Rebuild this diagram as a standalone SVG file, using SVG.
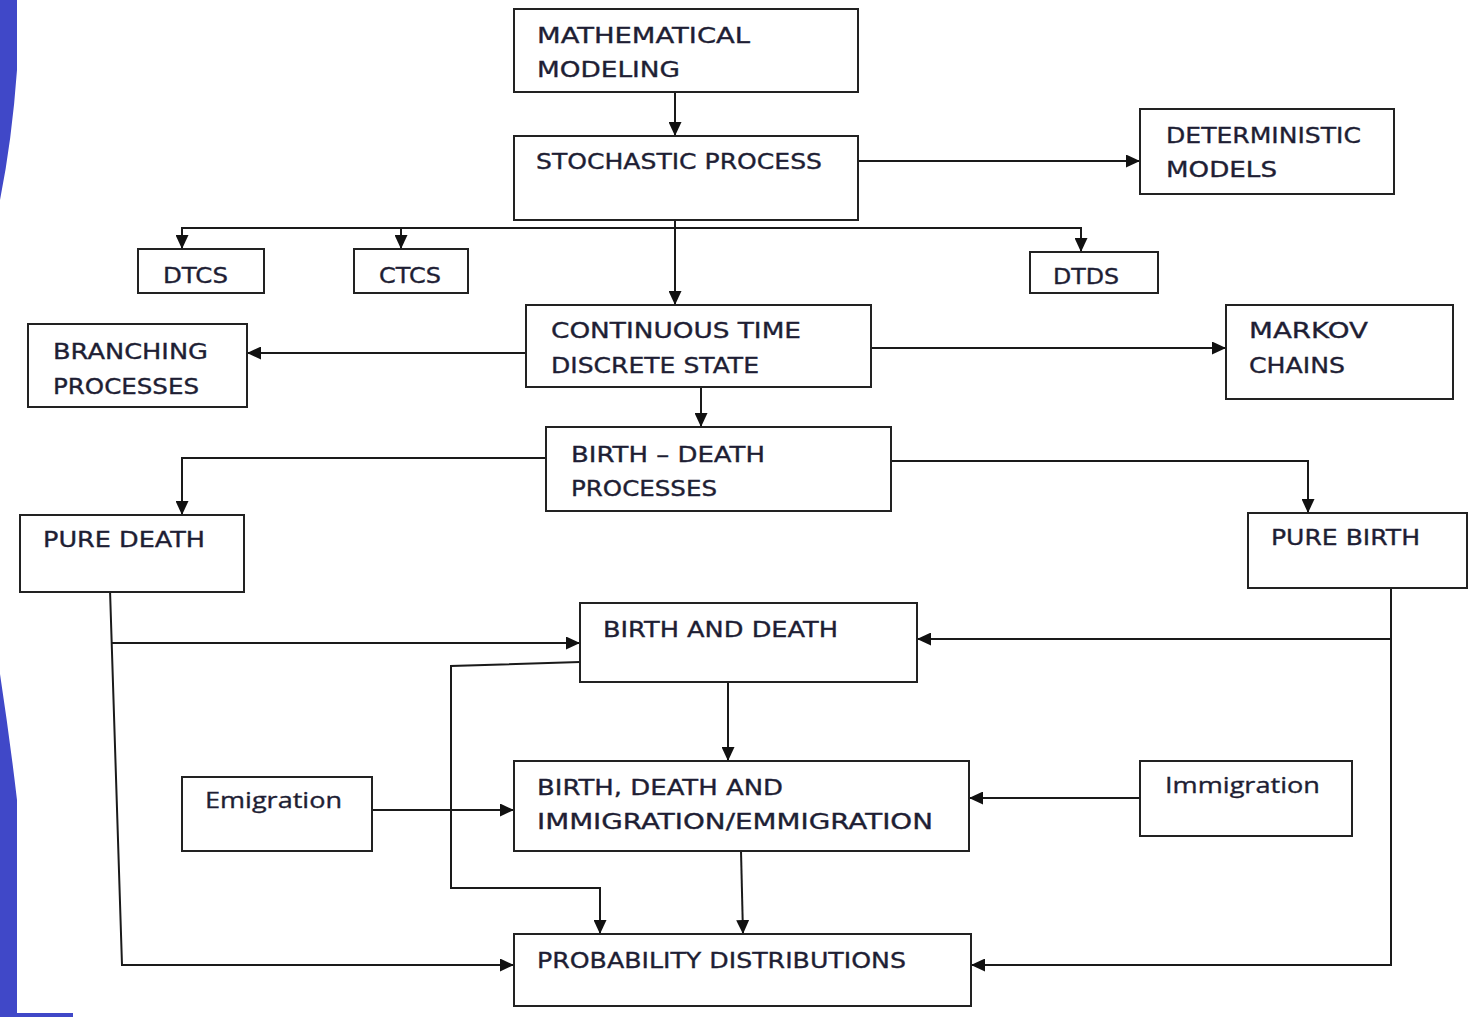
<svg xmlns="http://www.w3.org/2000/svg" width="1472" height="1017" viewBox="0 0 1472 1017">
<defs>
<marker id="ah" markerUnits="userSpaceOnUse" markerWidth="14" markerHeight="13" refX="14" refY="6.5" orient="auto">
<path d="M0,0 L14,6.5 L0,13 z" fill="#111"/>
</marker>
<style>
.box{fill:#fff;stroke:#222;stroke-width:2}
.t{font-family:"DejaVu Sans",Verdana,sans-serif;font-size:22px;fill:#1e1e34;stroke:#1e1e34;stroke-width:0.35}
.tl{font-family:"Open Sans","DejaVu Sans",sans-serif;font-size:22px;fill:#1e1e34;stroke:#1e1e34;stroke-width:0.35}
.c{fill:none;stroke:#1a1a1a;stroke-width:2}
.c path{marker-end:url(#ah)}
</style>
</defs>
<rect width="1472" height="1017" fill="#fff"/>
<path d="M0,0 H17 V70 Q12,140 0,200 V674 Q10,740 17,800 V1013 H73 V1017 H0 Z" fill="#4048c8"/>

<g id="connectors" class="c">
<path d="M675,92 V136"/>
<path d="M858,161 H1140"/>
<path d="M675,220 V305"/>
<path d="M675,228 H182 V249"/>
<path d="M401,228 V249"/>
<path d="M675,228 H1081 V252"/>
<path d="M526,353 H247"/>
<path d="M871,348 H1226"/>
<path d="M701,387 V427"/>
<path d="M546,458 H182 V515"/>
<path d="M891,461 H1308 V513"/>
<path d="M1391,588 V965 H971"/>
<path d="M1391,639 H917"/>
<path d="M110,590 L122,965 H514"/>
<path d="M111,643 H580"/>
<path d="M580,662 L451,666 V888 H600 V934"/>
<path d="M728,682 V761"/>
<path d="M372,810 H514"/>
<path d="M1140,798 H969"/>
<path d="M741,851 L743,934"/>
</g>

<g id="mathematical-modeling">
<rect class="box" x="514" y="9" width="344" height="83"/>
<text class="t" x="537" y="43" textLength="213" lengthAdjust="spacingAndGlyphs">MATHEMATICAL</text>
<text class="t" x="537" y="77" textLength="143" lengthAdjust="spacingAndGlyphs">MODELING</text>
</g>
<g id="stochastic-process">
<rect class="box" x="514" y="136" width="344" height="84"/>
<text class="t" x="536" y="169" textLength="286" lengthAdjust="spacingAndGlyphs">STOCHASTIC PROCESS</text>
</g>
<g id="deterministic-models">
<rect class="box" x="1140" y="109" width="254" height="85"/>
<text class="t" x="1166" y="143" textLength="195" lengthAdjust="spacingAndGlyphs">DETERMINISTIC</text>
<text class="t" x="1166" y="177" textLength="111" lengthAdjust="spacingAndGlyphs">MODELS</text>
</g>
<g id="dtcs">
<rect class="box" x="138" y="249" width="126" height="44"/>
<text class="t" x="163" y="283" textLength="65" lengthAdjust="spacingAndGlyphs">DTCS</text>
</g>
<g id="ctcs">
<rect class="box" x="354" y="249" width="114" height="44"/>
<text class="t" x="379" y="283" textLength="62" lengthAdjust="spacingAndGlyphs">CTCS</text>
</g>
<g id="dtds">
<rect class="box" x="1030" y="252" width="128" height="41"/>
<text class="t" x="1053" y="284" textLength="66" lengthAdjust="spacingAndGlyphs">DTDS</text>
</g>
<g id="branching-processes">
<rect class="box" x="28" y="324" width="219" height="83"/>
<text class="t" x="53" y="359" textLength="155" lengthAdjust="spacingAndGlyphs">BRANCHING</text>
<text class="t" x="53" y="394" textLength="146" lengthAdjust="spacingAndGlyphs">PROCESSES</text>
</g>
<g id="continuous-time-discrete-state">
<rect class="box" x="526" y="305" width="345" height="82"/>
<text class="t" x="551" y="338" textLength="250" lengthAdjust="spacingAndGlyphs">CONTINUOUS TIME</text>
<text class="t" x="551" y="373" textLength="208" lengthAdjust="spacingAndGlyphs">DISCRETE STATE</text>
</g>
<g id="markov-chains">
<rect class="box" x="1226" y="305" width="227" height="94"/>
<text class="t" x="1249" y="338" textLength="119" lengthAdjust="spacingAndGlyphs">MARKOV</text>
<text class="t" x="1249" y="373" textLength="96" lengthAdjust="spacingAndGlyphs">CHAINS</text>
</g>
<g id="birth-death-processes">
<rect class="box" x="546" y="427" width="345" height="84"/>
<text class="t" x="571" y="462" textLength="194" lengthAdjust="spacingAndGlyphs">BIRTH – DEATH</text>
<text class="t" x="571" y="496" textLength="146" lengthAdjust="spacingAndGlyphs">PROCESSES</text>
</g>
<g id="pure-death">
<rect class="box" x="20" y="515" width="224" height="77"/>
<text class="t" x="43" y="547" textLength="162" lengthAdjust="spacingAndGlyphs">PURE DEATH</text>
</g>
<g id="pure-birth">
<rect class="box" x="1248" y="513" width="219" height="75"/>
<text class="t" x="1271" y="545" textLength="149" lengthAdjust="spacingAndGlyphs">PURE BIRTH</text>
</g>
<g id="birth-and-death">
<rect class="box" x="580" y="603" width="337" height="79"/>
<text class="t" x="603" y="637" textLength="235" lengthAdjust="spacingAndGlyphs">BIRTH AND DEATH</text>
</g>
<g id="emigration">
<rect class="box" x="182" y="777" width="190" height="74"/>
<text class="tl" x="205" y="808" textLength="137" lengthAdjust="spacingAndGlyphs">Emigration</text>
</g>
<g id="birth-death-immigration">
<rect class="box" x="514" y="761" width="455" height="90"/>
<text class="t" x="537" y="795" textLength="246" lengthAdjust="spacingAndGlyphs">BIRTH, DEATH AND</text>
<text class="t" x="537" y="829" textLength="396" lengthAdjust="spacingAndGlyphs">IMMIGRATION/EMMIGRATION</text>
</g>
<g id="immigration">
<rect class="box" x="1140" y="761" width="212" height="75"/>
<text class="tl" x="1165" y="793" textLength="155" lengthAdjust="spacingAndGlyphs">Immigration</text>
</g>
<g id="probability-distributions">
<rect class="box" x="514" y="934" width="457" height="72"/>
<text class="t" x="537" y="968" textLength="369" lengthAdjust="spacingAndGlyphs">PROBABILITY DISTRIBUTIONS</text>
</g>
</svg>
